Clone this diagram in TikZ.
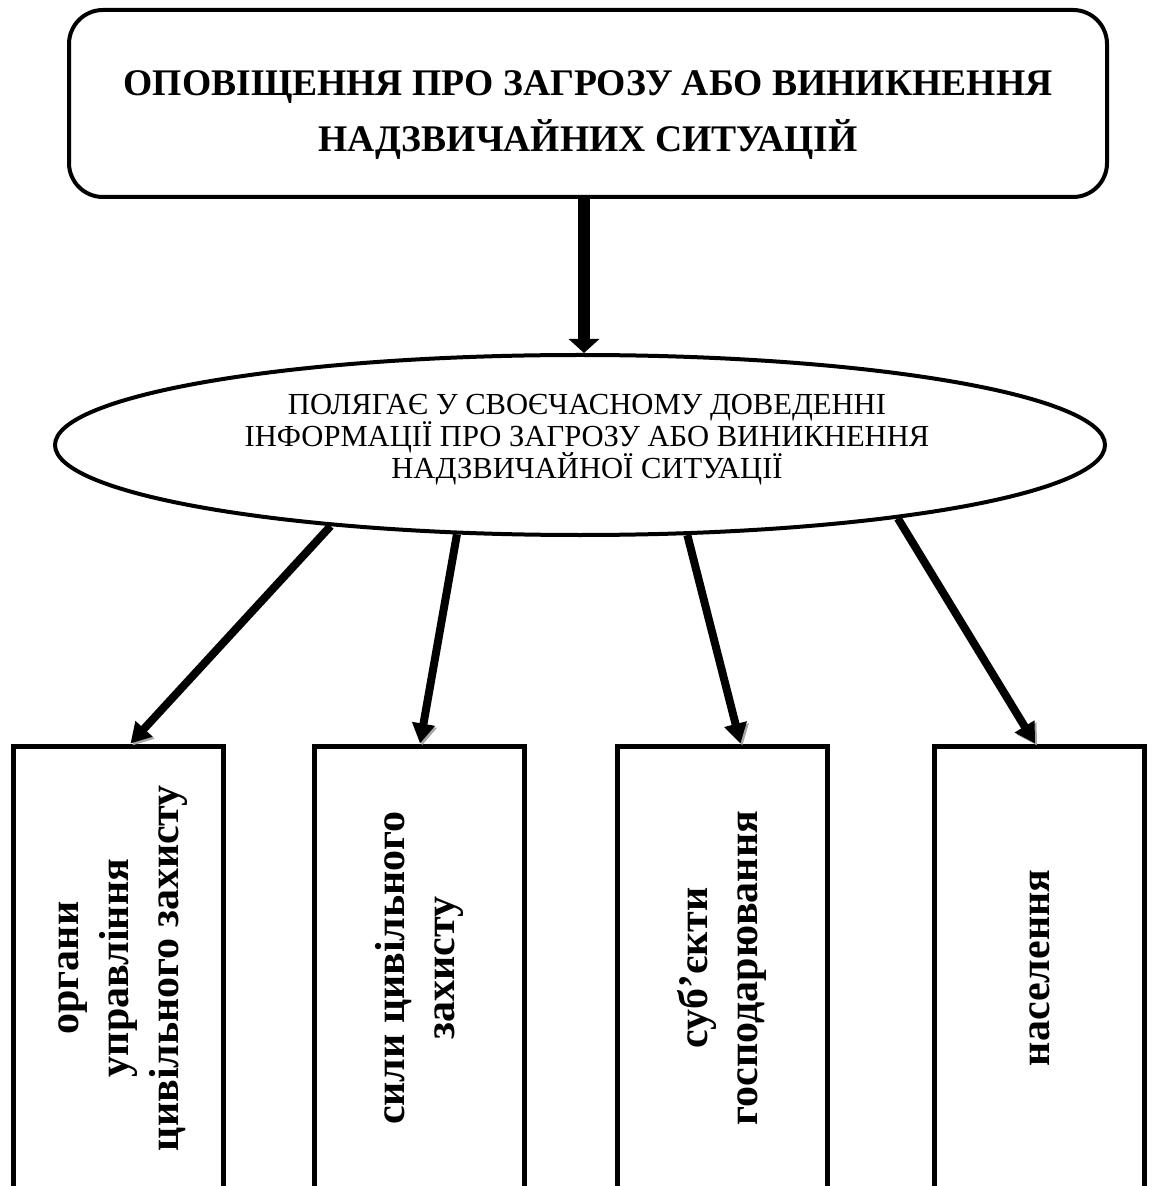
\documentclass[tikz,border=0pt]{standalone}
\usepackage{fontspec}
\setmainfont{Liberation Serif}
\usetikzlibrary{shapes.geometric, arrows.meta, positioning, calc}

\tikzset{
  headbox/.style={draw, line width=2pt, rounded corners=17pt, minimum width=519pt,
    minimum height=93.5pt, font=\fontsize{18.8}{28}\selectfont\bfseries},
  sumell/.style={draw, ellipse, line width=2pt, minimum width=525pt, minimum height=90pt,
    inner sep=0pt, font=\fontsize{15.3}{16}\selectfont},
  leafbox/.style={draw, line width=2.5pt, minimum width=105pt, minimum height=222pt,
    inner sep=0pt, font=\fontsize{21}{25}\selectfont\bfseries},
  bigarrow/.style={line width=6pt, -{Triangle[width=15pt,length=7pt]}},
  feed/.style={line width=4pt, -{Triangle[width=11pt,length=10pt]},
    preaction={draw=black!35, transform canvas={shift={(1pt,-1pt)}}}}
}
\newcommand{\stack}[1]{\begin{tabular}{@{}c@{}}#1\end{tabular}}
\newcommand{\upright}[1]{\rotatebox{90}{\stack{#1}}}
% text block pinned to the node centre, moved by #1 (right) and #2 (up)
\newcommand{\pinned}[3]{\raisebox{#2}[0pt][0pt]{\makebox[0pt]{\hspace*{#1}%
  \parbox[c]{480pt}{\centering\lineskiplimit=-20pt #3}}}}

\begin{document}
\begin{tikzpicture}[x=0.5pt, y=-0.5pt]
  \clip (0,0) rectangle (1157,1186);
  % top
  \node[headbox] (title) at (588,103.5)
    {\pinned{0pt}{-10pt}{ОПОВІЩЕННЯ ПРО ЗАГРОЗУ АБО ВИНИКНЕННЯ\\НАДЗВИЧАЙНИХ СИТУАЦІЙ}};
  \node[sumell] (ell) at (580,445)
    {\pinned{7pt}{-1pt}{ПОЛЯГАЄ У СВОЄЧАСНОМУ ДОВЕДЕННІ\\ІНФОРМАЦІЇ ПРО ЗАГРОЗУ АБО ВИНИКНЕННЯ\\НАДЗВИЧАЙНОЇ СИТУАЦІЇ}};
  % bottom row
  \node[leafbox] (organy) at (118.5,968)
    {\upright{органи\\управління\\цивільного захисту}};
  \node[leafbox] (syly) at (419,968)
    {\upright{сили цивільного\\захисту}};
  \node[leafbox] (subjekty) at (722.5,968)
    {\upright{суб’єкти\\господарювання}};
  \node[leafbox] (naselennia) at (1039,968)
    {\upright{населення}};
  % connectors
  \draw[bigarrow] ([xshift=-2pt]title.south) -- ([xshift=2pt]ell.north);
  \draw[feed] (ell.198.6) -- ([xshift=6pt]organy.north);
  \draw[feed] (ell.216) -- ([xshift=0.5pt]syly.north);
  \draw[feed] (ell.320) -- ([xshift=9pt]subjekty.north);
  \draw[feed] (ell.347.5) -- ([xshift=-2pt]naselennia.north);
\end{tikzpicture}
\end{document}
